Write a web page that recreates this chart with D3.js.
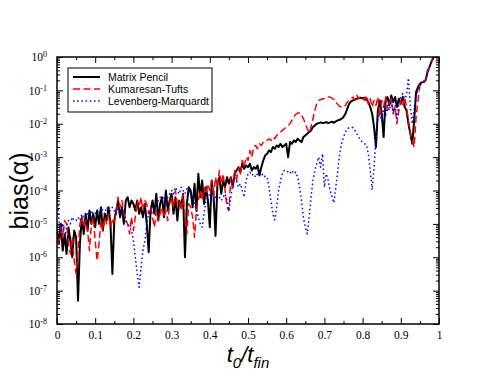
<!DOCTYPE html>
<html>
<head>
<meta charset="utf-8">
<script src="https://cdn.jsdelivr.net/npm/d3@7"></script>
<style>
	body { margin: 0; background: #fff; }
	svg { display: block; }
</style>
</head>
<body>
<script>

const stepT = 0.005;

const matrixPencil = [
	-5.2, -5.6, -5.0, -5.8, -5.3, -5.9, -5.1, -5.5, -6.0, -5.2,
	-5.4, -7.3, -5.6, -4.8, -5.3, -4.7, -5.2, -4.6, -5.0, -4.7,
	-5.1, -4.6, -5.0, -4.5, -5.2, -4.7, -4.9, -4.5, -5.0, -6.5,
	-4.9, -4.6, -4.3, -4.8, -4.5, -5.0, -4.3, -4.2, -4.5, -4.3,
	-4.4, -4.6, -4.3, -4.7, -4.5, -4.8, -4.4, -5.0, -5.85, -4.6,
	-4.3, -4.7, -4.1, -4.9, -4.4, -4.2, -4.8, -4.0, -4.6, -4.3,
	-4.1, -4.7, -4.2, -4.9, -4.3, -4.5, -4.1, -6.0, -4.4, -3.9,
	-4.0, -4.5, -3.8, -4.6, -3.5, -4.2, -3.7, -4.4, -3.9, -4.3,
	-5.1, -3.7, -4.2, -5.36, -3.8, -3.6, -4.1, -3.7, -3.9, -3.6,
	-3.8, -3.6, -3.9, -3.5, -3.4, -3.3, -3.45, -3.2, -3.35, -3.25,
	-3.3, -3.2, -3.4, -3.3, -3.35, -3.25, -3.55, -3.3, -3.1, -2.95,
	-2.9, -2.8, -2.85, -2.7, -2.75, -2.65, -2.7, -2.6, -2.7, -2.65,
	-2.6, -3.0, -2.55, -2.6, -2.5, -2.55, -2.45, -2.5, -2.55, -2.4,
	-2.35, -2.3, -2.25, -2.2, -2.1, -2.05, -2.0, -1.98, -1.96, -1.98,
	-1.97, -1.95, -1.98, -1.96, -1.94, -1.97, -1.93, -1.9, -1.88, -1.85,
	-1.8, -1.7, -1.55, -1.4, -1.33, -1.3, -1.28, -1.25, -1.23, -1.22,
	-1.24, -1.22, -1.28, -1.35, -1.5, -1.7, -2.1, -2.7, -1.6, -1.3,
	-1.7, -2.4, -1.3, -1.2, -1.45, -1.15, -1.35, -1.2, -1.5, -1.25,
	-1.4, -1.2, -1.5, -1.6, -2.0, -2.3, -2.6, -1.9, -1.05, -0.9,
	-0.8, -0.76, -0.75, -0.7, -0.45, -0.3, -0.15, -0.02
];

const kumaresanTufts = [
	-5.3, -5.6, -5.1, -5.4, -4.9, -5.0, -5.6, -5.9, -5.4, -6.1,
	-6.5, -5.8, -5.0, -4.8, -5.1, -4.9, -5.2, -5.8, -5.0, -4.8,
	-5.5, -6.1, -5.6, -4.9, -5.2, -4.8, -5.0, -4.7, -5.1, -4.9,
	-5.0, -4.6, -4.2, -4.5, -4.3, -4.7, -4.9, -5.0, -5.3, -4.8,
	-5.2, -4.8, -4.3, -4.5, -4.2, -4.6, -4.3, -4.4, -4.7, -4.5,
	-4.8, -5.1, -4.6, -4.9, -4.7, -4.5, -4.8, -4.6, -4.9, -4.4,
	-4.2, -4.5, -4.0, -4.4, -4.3, -4.6, -4.1, -4.8, -5.3, -4.4,
	-4.5, -4.8, -5.4, -4.6, -4.3, -4.0, -4.3, -3.9, -4.1, -3.8,
	-4.0, -3.7, -4.2, -3.6, -3.9, -3.4, -3.8, -3.5, -4.0, -4.5,
	-4.6, -3.6, -3.9, -3.4, -3.7, -3.3, -3.5, -3.1, -3.3, -3.0,
	-3.1, -2.8, -3.0, -2.7, -2.65, -2.75, -2.6, -2.65, -2.55, -2.5,
	-2.5, -2.45, -2.5, -2.4, -2.45, -2.35, -2.3, -2.25, -2.2, -2.15,
	-2.1, -2.05, -2.0, -1.9, -1.8, -1.72, -1.68, -1.68, -1.75, -1.85,
	-1.98, -2.15, -2.28, -2.1, -1.85, -1.6, -1.4, -1.3, -1.28, -1.25,
	-1.25, -1.22, -1.2, -1.2, -1.23, -1.28, -1.35, -1.42, -1.48, -1.5,
	-1.5, -1.45, -1.35, -1.3, -1.25, -1.2, -1.3, -1.15, -1.25, -1.18,
	-1.2, -1.3, -1.15, -1.4, -1.25, -1.5, -1.3, -1.45, -1.2, -1.8,
	-1.3, -1.5, -1.2, -1.6, -1.4, -1.25, -1.7, -1.5, -2.0, -1.6,
	-1.3, -1.45, -1.2, -1.5, -1.9, -2.3, -2.5, -2.7, -1.8, -1.3,
	-0.85, -0.8, -0.72, -0.68, -0.4, -0.3, -0.12, -0.05
];

const levenbergMarquardt = [
	-3.8, -4.9, -5.2, -5.0, -5.4, -5.1, -4.9, -5.0, -4.8, -4.9,
	-4.9, -4.8, -4.9, -4.7, -4.8, -4.9, -4.7, -4.8, -4.6, -4.7,
	-4.7, -4.6, -4.7, -4.5, -4.6, -4.7, -4.5, -4.6, -4.6, -4.5,
	-4.6, -4.7, -4.5, -4.6, -4.7, -4.6, -4.9, -5.0, -5.1, -5.2,
	-5.5, -6.0, -6.5, -6.9, -6.3, -5.8, -5.5, -5.0, -4.7, -4.6,
	-4.7, -4.6, -4.4, -4.3, -4.2, -4.3, -4.2, -4.4, -4.2, -4.1,
	-4.0, -4.1, -3.9, -4.0, -4.1, -3.9, -4.0, -4.1, -3.95, -4.0,
	-4.1, -4.2, -4.4, -4.6, -4.8, -5.0, -5.1, -4.7, -4.3, -4.2,
	-4.1, -4.2, -4.3, -4.2, -4.1, -4.2, -4.3, -4.2, -4.1, -4.3,
	-4.6, -4.2, -3.8, -3.6, -3.7, -3.9, -3.8, -4.0, -4.2, -3.7,
	-3.5, -3.45, -3.55, -3.5, -3.6, -3.5, -3.45, -3.55, -3.5, -3.6,
	-3.6, -3.9, -4.3, -4.7, -4.88, -4.5, -4.0, -3.7, -3.5, -3.4,
	-3.4, -3.45, -3.5, -3.4, -3.5, -3.45, -3.6, -3.9, -4.3, -4.8,
	-5.1, -5.3, -4.8, -4.2, -3.7, -3.4, -3.2, -3.0, -3.3, -2.9,
	-3.9, -3.5, -3.7, -4.0, -4.2, -4.37, -3.9, -3.4, -2.9, -2.6,
	-2.4, -2.25, -2.15, -2.12, -2.1, -2.12, -2.2, -2.3, -2.4, -2.5,
	-2.55, -2.6, -2.63, -2.9, -3.4, -3.98, -3.3, -2.4, -1.8, -1.73,
	-1.9, -1.5, -1.8, -1.4, -1.6, -1.3, -1.7, -1.45, -1.9, -1.35,
	-1.2, -1.1, -1.25, -1.15, -0.63, -1.5, -2.0, -1.6, -1.2, -1.0,
	-0.85, -0.8, -0.75, -0.7, -0.45, -0.3, -0.15, -0.05
];

const seriesNames = ['Matrix Pencil', 'Kumaresan-Tufts', 'Levenberg-Marquardt'];
const xTicks = [0, 0.1, 0.2, 0.3, 0.4, 0.5, 0.6, 0.7, 0.8, 0.9, 1];
const yExponents = [-8, -7, -6, -5, -4, -3, -2, -1, 0];


const W = 494, H = 382;
const plot = { left: 57, right: 439, top: 57, bottom: 324 };

const svg = d3.select('body').append('svg')
	.attr('width', W)
	.attr('height', H);

const xScale = d3.scaleLinear().domain([0, 1]).range([plot.left, plot.right]);
const yScale = d3.scaleLog().domain([1e-8, 1]).range([plot.bottom, plot.top]);

const majorY = yExponents.map(e => Math.pow(10, e));
const minorY = [];
yExponents.slice(0, -1).forEach(function(e) {
	for (let k = 2; k <= 9; k++) minorY.push(k * Math.pow(10, e));
});
const minorX = d3.range(0.05, 1, 0.1);

svg.append('defs').append('clipPath').attr('id', 'clip')
	.append('rect')
	.attr('x', plot.left).attr('y', plot.top)
	.attr('width', plot.right - plot.left)
	.attr('height', plot.bottom - plot.top);

// series
const line = d3.line()
	.x(function(d) { return xScale(d[0]); })
	.y(function(d) { return yScale(d[1]); });

function toPoints(arr) {
	return arr.map(function(v, i) { return [i * stepT, Math.pow(10, v)]; });
}

const styles = [
	{ data: matrixPencil, color: '#000000', width: 2, dash: null },
	{ data: kumaresanTufts, color: '#ff0000', width: 1.5, dash: '7,3.5' },
	{ data: levenbergMarquardt, color: '#0000ff', width: 1.5, dash: '1.5,2.7' }
];

const lines = svg.append('g').attr('clip-path', 'url(#clip)');
styles.forEach(function(s) {
	lines.append('path')
		.datum(toPoints(s.data))
		.attr('d', line)
		.attr('fill', 'none')
		.attr('stroke', s.color)
		.attr('stroke-width', s.width)
		.attr('stroke-dasharray', s.dash)
		.attr('stroke-linejoin', 'round');
});

// axes (ticks inward)
function styleAxis(g) {
	g.select('.domain').remove();
	g.selectAll('.tick line').attr('stroke', '#000').attr('stroke-width', 1);
	g.attr('font-family', '"Liberation Serif", "Times New Roman", serif');
}

svg.append('g')
	.attr('transform', 'translate(0,' + plot.bottom + ')')
	.call(d3.axisBottom(xScale).tickValues(xTicks).tickSize(-6).tickPadding(7)
		.tickFormat(function(d) { return d3.format('')(d); }))
	.call(styleAxis)
	.selectAll('text')
		.style('font-size', '11.5px')
		.attr('fill', '#000');

svg.append('g')
	.attr('transform', 'translate(0,' + plot.bottom + ')')
	.call(d3.axisBottom(xScale).tickValues(minorX).tickSize(-3).tickFormat(''))
	.call(styleAxis);

svg.append('g')
	.attr('transform', 'translate(0,' + plot.top + ')')
	.call(d3.axisTop(xScale).tickValues(xTicks).tickSize(-6).tickFormat(''))
	.call(styleAxis);

svg.append('g')
	.attr('transform', 'translate(0,' + plot.top + ')')
	.call(d3.axisTop(xScale).tickValues(minorX).tickSize(-3).tickFormat(''))
	.call(styleAxis);

const yAxisG = svg.append('g')
	.attr('transform', 'translate(' + plot.left + ',0)')
	.call(d3.axisLeft(yScale).tickValues(majorY).tickSize(-6).tickPadding(10)
		.tickFormat(function(d) { return String(Math.round(Math.log10(d))); }))
	.call(styleAxis);

yAxisG.selectAll('.tick text').each(function() {
	const t = d3.select(this);
	const ex = t.text();
	t.text(null)
		.style('font-size', '11.5px')
		.attr('fill', '#000');
	t.append('tspan').text('10');
	t.append('tspan').attr('dy', '-0.5em').style('font-size', '8px').text(ex);
});

svg.append('g')
	.attr('transform', 'translate(' + plot.left + ',0)')
	.call(d3.axisLeft(yScale).tickValues(minorY).tickSize(-3).tickFormat(''))
	.call(styleAxis);

svg.append('g')
	.attr('transform', 'translate(' + plot.right + ',0)')
	.call(d3.axisRight(yScale).tickValues(majorY).tickSize(-6).tickFormat(''))
	.call(styleAxis);

svg.append('g')
	.attr('transform', 'translate(' + plot.right + ',0)')
	.call(d3.axisRight(yScale).tickValues(minorY).tickSize(-3).tickFormat(''))
	.call(styleAxis);

// frame
svg.append('rect')
	.attr('x', plot.left).attr('y', plot.top)
	.attr('width', plot.right - plot.left)
	.attr('height', plot.bottom - plot.top)
	.attr('fill', 'none')
	.attr('stroke', '#000')
	.attr('stroke-width', 1.5);

// axis titles
const xt = svg.append('text')
	.attr('x', (plot.left + plot.right) / 2)
	.attr('y', 362)
	.attr('text-anchor', 'middle')
	.style('font-family', '"Liberation Sans", Arial, sans-serif')
	.style('font-style', 'italic')
	.style('font-size', '22px');
xt.append('tspan').text('t');
xt.append('tspan').attr('dy', 6).style('font-size', '15px').text('0');
xt.append('tspan').attr('dy', -6).text('/t');
xt.append('tspan').attr('dy', 6).style('font-size', '15px').text('fin');

svg.append('text')
	.attr('transform', 'translate(28,191) rotate(-90)')
	.attr('text-anchor', 'middle')
	.style('font-family', '"Liberation Sans", Arial, sans-serif')
	.style('font-size', '25px')
	.text('bias(\u03b1)');

// legend
const legend = svg.append('g');
legend.append('rect')
	.attr('x', 68).attr('y', 68)
	.attr('width', 144).attr('height', 44)
	.attr('fill', '#fff')
	.attr('stroke', '#000')
	.attr('stroke-width', 1);

seriesNames.forEach(function(name, i) {
	const s = styles[i];
	const yy = 77 + i * 12;
	legend.append('line')
		.attr('x1', 73).attr('x2', 100)
		.attr('y1', yy).attr('y2', yy)
		.attr('stroke', s.color)
		.attr('stroke-width', s.width)
		.attr('stroke-dasharray', s.dash);
	legend.append('text')
		.attr('x', 108).attr('y', yy)
		.attr('dy', '0.35em')
		.style('font-family', '"Liberation Sans", Arial, sans-serif')
		.style('font-size', '10.5px')
		.text(name);
});

</script>
</body>
</html>
